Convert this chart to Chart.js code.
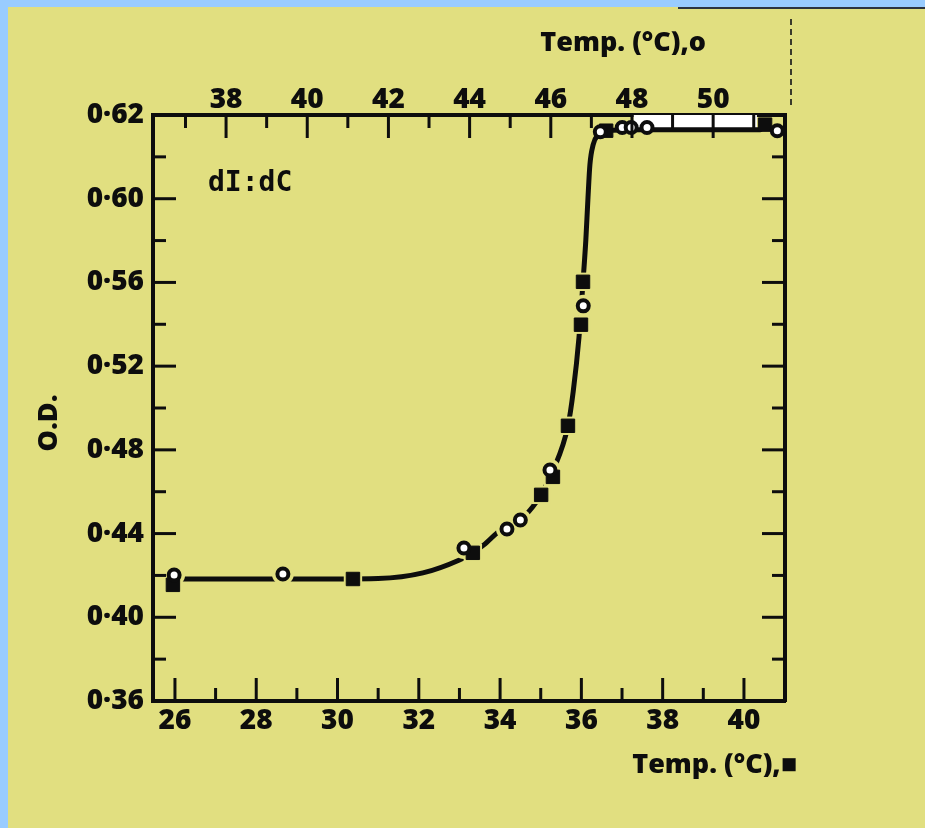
<!DOCTYPE html>
<html>
<head>
<meta charset="utf-8">
<title>O.D. / Temp.</title>
<script src="https://cdn.jsdelivr.net/npm/chart.js@4.4.1/dist/chart.umd.min.js"></script>
<style>
	html, body { margin: 0; padding: 0; }
	body { width: 925px; height: 828px; background: #99ccff; position: relative; overflow: hidden; }
	.paper { position: absolute; left: 8px; top: 7px; right: 0; bottom: 0; background: #e1df80; }
	.paper .edge { position: absolute; left: 670px; right: 0; top: 0; height: 2px; background: #2c3440; }
	.paper .crease { position: absolute; left: 782px; top: 12px; height: 86px; border-left: 2px dashed #3a3a2a; }
	#chart { position: absolute; left: 0; top: 0; }
</style>
</head>
<body>
<div class="paper"><div class="edge"></div><div class="crease"></div></div>
<canvas id="chart" width="925" height="828"></canvas>
<script>
(function () {
	'use strict';

	// ■ read against the bottom temperature scale
	var squareTemp = [25.95, 30.38, 33.33, 35.01, 35.30, 35.67, 35.99, 36.04, 36.61, 40.52];
	var squareOD = [0.4155, 0.4183, 0.4308, 0.4585, 0.4671, 0.4915, 0.5398, 0.5603, 0.6325, 0.6354];

	// o read against the top temperature scale
	var circleTemp = [36.72, 39.40, 43.86, 44.92, 45.25, 45.98, 46.80, 47.22, 47.76, 47.98, 48.37, 51.58];
	var circleOD = [0.4202, 0.4207, 0.4331, 0.4422, 0.4465, 0.4704, 0.5488, 0.6320, 0.6340, 0.6340, 0.6340, 0.6325];

	// drawn curve (bottom scale)
	var curveTemp = [26.20, 28.00, 30.00, 31.00, 32.10, 33.00, 33.33, 33.60, 34.00, 34.50, 34.80, 35.01, 35.30, 35.67, 35.80, 35.94, 36.04, 36.11, 36.16, 36.21, 36.29, 36.41, 36.61, 37.50, 40.40];
	var curveOD = [0.4183, 0.4183, 0.4183, 0.4185, 0.4212, 0.4274, 0.4308, 0.4346, 0.4415, 0.4465, 0.4527, 0.4585, 0.4700, 0.4915, 0.5080, 0.5335, 0.5603, 0.5804, 0.5995, 0.6163, 0.6258, 0.6306, 0.6325, 0.6330, 0.6330];

	// white strip over the plateau
	var stripTemp = [37.28, 40.32];
	var stripOD = [0.6335, 0.6335];

	// axes
	var xTicks = [26, 27, 28, 29, 30, 31, 32, 33, 34, 35, 36, 37, 38, 39, 40];
	var xLabels = [26, 28, 30, 32, 34, 36, 38, 40];
	var x2Ticks = [37, 38, 39, 40, 41, 42, 43, 44, 45, 46, 47, 48, 49, 50, 51];
	var x2Labels = [38, 40, 42, 44, 46, 48, 50];
	var yTicks = [0.36, 0.38, 0.40, 0.42, 0.44, 0.46, 0.48, 0.50, 0.52, 0.54, 0.56, 0.58, 0.60, 0.62, 0.64];
	var yLongTicks = [0.40, 0.44, 0.48, 0.52, 0.56, 0.60];
	var yLabelValues = [0.36, 0.40, 0.44, 0.48, 0.52, 0.56, 0.60, 0.64];
	var yLabelText = ['0·36', '0·40', '0·44', '0·48', '0·52', '0·56', '0·60', '0·62'];

	var INK = '#0d0d0d';
	var PAPER = '#e1df80';
	var labelFont = { family: '"Open Sans", sans-serif', size: 28, weight: 800, lineHeight: 1 };

	function toPoints(xs, ys) {
		return xs.map(function (x, i) { return { x: x, y: ys[i] }; });
	}

	function indexOfValue(list, v) {
		for (var i = 0; i < list.length; i++) {
			if (Math.abs(list[i] - v) < 1e-6) return i;
		}
		return -1;
	}

	function setTicks(values) {
		return function (scale) {
			scale.ticks = values.map(function (v) { return { value: v }; });
		};
	}

	function fixedSize(size) {
		return function (scale) {
			if (scale.isHorizontal()) scale.height = size;
			else scale.width = size;
		};
	}

	function axis(position, min, max, ticks, size, callback, padding) {
		return {
			type: 'linear',
			position: position,
			min: min,
			max: max,
			z: 1,
			grid: { display: false },
			border: { display: true, color: INK, width: 4 },
			ticks: {
				display: !!callback,
				autoSkip: false,
				maxRotation: 0,
				padding: padding || 0,
				color: INK,
				font: labelFont,
				callback: callback || function () { return ''; }
			},
			afterBuildTicks: setTicks(ticks),
			afterFit: fixedSize(size)
		};
	}

	// inward tick marks, long at the labelled values
	var innerTicks = {
		id: 'innerTicks',
		afterDraw: function (chart) {
			var ctx = chart.ctx;
			var area = chart.chartArea;
			var longTicks = { x: xLabels, x2: x2Labels, y: yLongTicks, y2: yLongTicks };

			ctx.save();
			ctx.strokeStyle = INK;
			ctx.lineWidth = 3;
			Object.keys(chart.scales).forEach(function (id) {
				var scale = chart.scales[id];
				scale.ticks.forEach(function (t) {
					var p = scale.getPixelForValue(t.value);
					var len = indexOfValue(longTicks[id], t.value) >= 0 ? 23 : 13;
					ctx.beginPath();
					if (scale.isHorizontal()) {
						if (p < area.left + 3 || p > area.right - 3) return;
						if (scale.position === 'bottom') {
							ctx.moveTo(p, area.bottom);
							ctx.lineTo(p, area.bottom - len);
						} else {
							ctx.moveTo(p, area.top);
							ctx.lineTo(p, area.top + len);
						}
					} else {
						if (p < area.top + 3 || p > area.bottom - 3) return;
						if (scale.position === 'left') {
							ctx.moveTo(area.left, p);
							ctx.lineTo(area.left + len, p);
						} else {
							ctx.moveTo(area.right, p);
							ctx.lineTo(area.right - len, p);
						}
					}
					ctx.stroke();
				});
			});
			ctx.restore();
		}
	};

	// axis titles and the panel label
	var figureText = {
		id: 'figureText',
		afterDraw: function (chart) {
			var ctx = chart.ctx;
			var area = chart.chartArea;

			ctx.save();
			ctx.fillStyle = INK;
			ctx.textBaseline = 'middle';
			ctx.font = '800 27px "Open Sans", sans-serif';

			ctx.textAlign = 'right';
			ctx.fillText('Temp. (°C),o', area.right - 79, area.top - 72);
			ctx.fillText('Temp. (°C),■', area.right + 12, area.bottom + 64);

			ctx.textAlign = 'left';
			ctx.font = 'bold 28px "DejaVu Sans Mono", monospace';
			ctx.fillText('dI:dC', area.left + 55, area.top + 69);

			ctx.translate(area.left - 104, area.top + 308);
			ctx.rotate(-Math.PI / 2);
			ctx.textAlign = 'center';
			ctx.font = '800 27px "Open Sans", sans-serif';
			ctx.fillText('O.D.', 0, 0);
			ctx.restore();
		}
	};

	function haloRadius(r) {
		return function (c) { return c.raw && c.raw.y > 0.62 ? 0 : r; };
	}

	var ctx = document.getElementById('chart').getContext('2d');

	new Chart(ctx, {
		type: 'scatter',
		data: {
			datasets: [{
				data: toPoints(stripTemp, stripOD),
				xAxisID: 'x',
				yAxisID: 'y',
				showLine: true,
				fill: 'end',
				backgroundColor: '#ffffff',
				borderWidth: 0,
				pointRadius: 0,
				order: 4
			}, {
				data: toPoints(curveTemp, curveOD),
				xAxisID: 'x',
				yAxisID: 'y',
				showLine: true,
				fill: false,
				borderColor: INK,
				borderWidth: 5,
				borderCapStyle: 'round',
				cubicInterpolationMode: 'monotone',
				pointRadius: 0,
				order: 3
			}, {
				data: toPoints(squareTemp, squareOD),
				xAxisID: 'x',
				yAxisID: 'y',
				pointStyle: 'rect',
				pointRadius: haloRadius(13),
				backgroundColor: PAPER,
				borderWidth: 0,
				order: 2
			}, {
				data: toPoints(circleTemp, circleOD),
				xAxisID: 'x2',
				yAxisID: 'y',
				pointStyle: 'circle',
				pointRadius: haloRadius(11),
				backgroundColor: PAPER,
				borderWidth: 0,
				order: 2
			}, {
				data: toPoints(squareTemp, squareOD),
				xAxisID: 'x',
				yAxisID: 'y',
				pointStyle: 'rect',
				pointRadius: 9.5,
				backgroundColor: INK,
				borderColor: INK,
				borderWidth: 1,
				order: 1
			}, {
				data: toPoints(circleTemp, circleOD),
				xAxisID: 'x2',
				yAxisID: 'y',
				pointStyle: 'circle',
				pointRadius: 5.5,
				backgroundColor: '#ffffff',
				borderColor: INK,
				borderWidth: 4,
				order: 0
			}]
		},
		options: {
			responsive: false,
			devicePixelRatio: 1,
			animation: false,
			events: [],
			layout: { padding: 0 },
			plugins: {
				legend: { display: false },
				tooltip: { enabled: false }
			},
			scales: {
				x: axis('bottom', 25.46, 41.01, xTicks, 127, function (v) {
					return xLabels.indexOf(v) >= 0 ? String(v) : '';
				}, -2),
				x2: axis('top', 36.20, 51.77, x2Ticks, 115, function (v) {
					return x2Labels.indexOf(v) >= 0 ? String(v) : '';
				}, -7),
				y: axis('left', 0.36, 0.64, yTicks, 153, function (v) {
					var i = indexOfValue(yLabelValues, v);
					return i >= 0 ? yLabelText[i] : '';
				}, 1),
				y2: axis('right', 0.36, 0.64, yTicks, 140, null, 0)
			}
		},
		plugins: [innerTicks, figureText]
	});
}());
</script>
</body>
</html>
